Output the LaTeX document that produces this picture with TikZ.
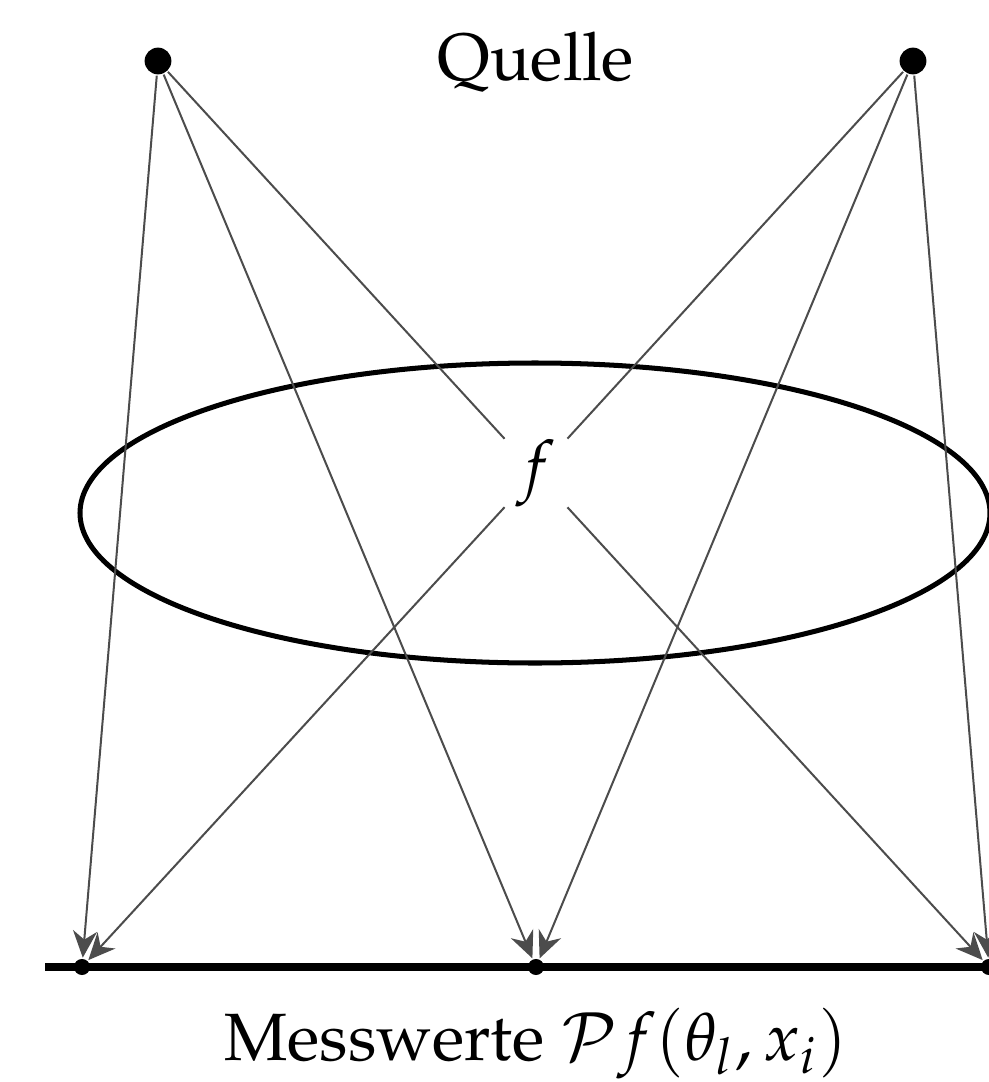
\documentclass[tikz,border=0pt]{standalone}
\usepackage[T1]{fontenc}
\usepackage{mathpazo}
\usetikzlibrary{arrows.meta}
\begin{document}
\begin{tikzpicture}[x=0.005254cm,y=-0.005254cm,
  ray/.style={draw=black!70, line width=0.3pt},
  arr/.style={ray,-{Stealth[length=4pt,width=3.6pt,inset=1.3pt]}},
  src/.style={circle,fill,inner sep=0pt,minimum size=4pt},
  det/.style={circle,fill,inner sep=0pt,minimum size=2.4pt}]
\useasboundingbox (0,0) rectangle (989,1082);
\node[src] (s1) at (158,61) {};
\node[src] (s2) at (913,61) {};
\node[anchor=base] (q) at (536,80) {Quelle};
\coordinate (l0) at (45,967);
\coordinate (l1) at (1010,967);
\draw[line width=1.05pt] (l0) -- (l1);
\node[det] (d1) at (82,967) {};
\node[det] (d2) at (536,967) {};
\node[det] (d3) at (989,967) {};
\draw[line width=0.75pt] (535,513) ellipse [x radius=455, y radius=150];
\node[inner sep=0pt, minimum width=9pt, minimum height=10.3pt] (f) at (536,473) {$f$};
\draw[arr] (s1) -- (d1);
\draw[arr] (s1) -- (d2);
\draw[ray] (s1) -- (f);
\draw[arr] (f) -- (d3);
\draw[arr] (s2) -- (d3);
\draw[arr] (s2) -- (d2);
\draw[ray] (s2) -- (f);
\draw[arr] (f) -- (d1);
\node[anchor=base] (m) at (536,1060) {Messwerte $\mathcal{P} f(\theta_l, x_i)$};
\end{tikzpicture}
\end{document}
